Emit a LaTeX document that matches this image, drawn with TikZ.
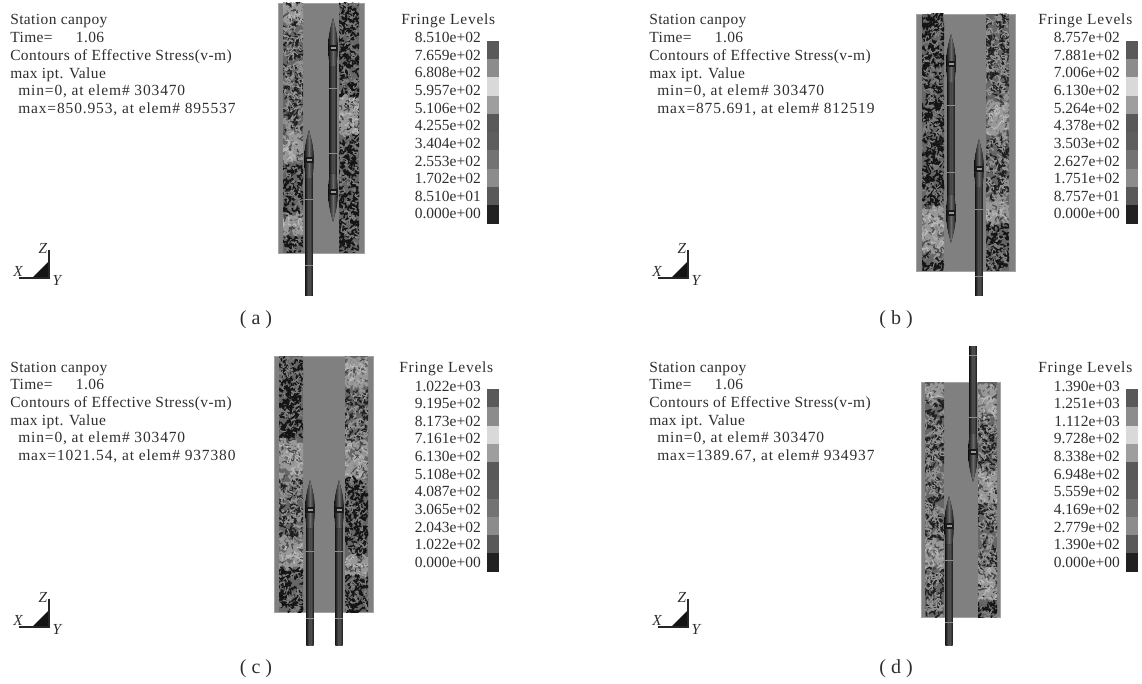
\documentclass[tikz,border=0pt]{standalone}
\usepackage{fontspec}
\setmainfont{Liberation Serif}
\pgfmathsetseed{4217}
\definecolor{ink}{gray}{0.18}
\tikzset{
  info/.style={anchor=base west,inner sep=0pt,text=ink,font=\fontsize{11.6pt}{13pt}\selectfont\addfontfeature{LetterSpace=2.6}},
  infowide/.style={anchor=base west,inner sep=0pt,text=ink,font=\fontsize{11.6pt}{13pt}\selectfont\addfontfeature{LetterSpace=5.6}},
  fringetitle/.style={anchor=base west,inner sep=0pt,text=ink,font=\fontsize{11.6pt}{13pt}\selectfont\addfontfeature{LetterSpace=5}},
  level/.style={anchor=base east,inner sep=0pt,text=ink,font=\fontsize{11.6pt}{13pt}\selectfont},
  axislabel/.style={inner sep=0pt,text=ink,font=\fontsize{11.5pt}{13pt}\selectfont\itshape},
  caption/.style={inner sep=0pt,text=ink,font=\fontsize{15pt}{17pt}\selectfont},
  ticklight/.style={draw=black!45,line width=0.35pt},
  panelbase/.style={fill=black!50,draw=black!36,line width=0.4pt},
}
% squiggles spread over x1..x2, y1..y2 (the caller's scope clips x only): colour, number, width
\newcommand{\squig}[7]{%
  \foreach \i in {1,...,#6}{%
    \pgfmathsetmacro\xa{#1+rnd*(#2-#1)}\pgfmathsetmacro\ya{#3+rnd*(#4-#3)}%
    \pgfmathsetmacro\ca{rand*5}\pgfmathsetmacro\cb{rand*5}\pgfmathsetmacro\cc{rand*5}\pgfmathsetmacro\cd{rand*5}%
    \draw[black!#5,line width=#7,line cap=round] (\xa,\ya) .. controls (\xa+\ca,\ya+\cb) and (\xa+\cb,\ya+\cc) .. (\xa+\cc,\ya+\cd);
  }}
\newcommand{\dkband}[4]{%
  \pgfmathtruncatemacro\nA{(#2-#1)*(#4-#3)/12}\pgfmathtruncatemacro\nB{(#2-#1)*(#4-#3)/32}%
  \squig{#1}{#2}{#3}{#4}{92}{\nA}{1.1pt}\squig{#1}{#2}{#3}{#4}{50}{\nB}{0.8pt}}
\newcommand{\mdband}[4]{%
  \pgfmathtruncatemacro\nA{(#2-#1)*(#4-#3)/17}\pgfmathtruncatemacro\nB{(#2-#1)*(#4-#3)/18}%
  \squig{#1}{#2}{#3}{#4}{88}{\nA}{1pt}\squig{#1}{#2}{#3}{#4}{42}{\nB}{0.8pt}}
\newcommand{\ltband}[4]{%
  \pgfmathtruncatemacro\nA{(#2-#1)*(#4-#3)/7}\pgfmathtruncatemacro\nB{(#2-#1)*(#4-#3)/60}\pgfmathtruncatemacro\nC{(#2-#1)*(#4-#3)/40}%
  \squig{#1}{#2}{#3}{#4}{40}{\nA}{1.2pt}\squig{#1}{#2}{#3}{#4}{72}{\nB}{0.8pt}\squig{#1}{#2}{#3}{#4}{28}{\nC}{0.7pt}}
% band frame: x1 x2 y1 y2, then the segments
\newcommand{\bandstrip}[5]{%
  \begin{scope}
    \clip (#1,#3) rectangle (#2,#4);
    \fill[black!60] (#1,#3) rectangle (#2,#4);
    #5
  \end{scope}}
% nose: cx tip dir
\newcommand{\nose}[3]{%
  \fill[left color=black!92,right color=black!92,middle color=black!58]
    (#1,#2) .. controls (#1-1.5,#2+#3*7) and (#1-4.6,#2+#3*15) .. (#1-4.6,#2+#3*28)
    .. controls (#1-4.6,#2+#3*36) and (#1-4,#2+#3*42) .. (#1-3.5,#2+#3*48)
    -- (#1+3.5,#2+#3*48)
    .. controls (#1+4,#2+#3*42) and (#1+4.6,#2+#3*36) .. (#1+4.6,#2+#3*28)
    .. controls (#1+4.6,#2+#3*15) and (#1+1.5,#2+#3*7) .. (#1,#2) -- cycle;
  \fill[black!90] (#1-4,#2+#3*27) rectangle (#1+4,#2+#3*33);
  \fill[black!40] (#1-2.5,#2+#3*29) rectangle (#1+2.5,#2+#3*31);}
% tube: cx y1 y2
\newcommand{\tube}[3]{%
  \fill[left color=black!90,right color=black!90,middle color=black!62] (#1-3.7,#2) rectangle (#1+3.7,#3);
  \fill[black!72] (#1-0.5,#2) rectangle (#1+0.5,#3);}
\newcommand{\ticktube}[2]{\draw[ticklight] (#1-3.7,#2) -- (#1+3.7,#2);}
% info block: id, x, first baseline, max line
\newcommand{\infoblock}[4]{%
  \node[info] (#1s) at (#2,#3) {Station canpoy};
  \node[info] (#1t) at (#2,#3+17.7) {Time=\hspace{1.5em}1.06};
  \node[info] (#1c) at (#2,#3+35.4) {Contours of Effective Stress(v-m)};
  \node[info] (#1v) at (#2,#3+53.1) {max ipt. Value};
  \node[infowide] (#1n) at (#2+8,#3+70.8) {min=0, at elem\# 303470};
  \node[infowide] (#1x) at (#2+8,#3+88.5) {#4};}
% triad: id, dx, dy
\newcommand{\triad}[3]{%
  \fill[black!92] (#2+32,#3+278) -- (#2+48,#3+278) -- (#2+48,#3+262) -- cycle;
  \draw[black!85,line width=0.9pt] (#2+19,#3+278) -- (#2+49,#3+278) -- (#2+49,#3+250);
  \node[axislabel] (#1Z) at (#2+43,#3+248) {Z};
  \node[axislabel] (#1X) at (#2+18,#3+271) {X};
  \node[axislabel] (#1Y) at (#2+57,#3+280) {Y};}
% legend: id, title x, bar x, title baseline, bar top
\newcommand{\fringe}[5]{%
  \node[fringetitle] (#1title) at (#2,#4) {Fringe Levels};
  \foreach \g [count=\k from 0] in {35,55,85,62,35,37,45,55,35,13}{%
    \fill[black!\the\numexpr100-\g\relax] (#3,#5+\k*18.25) rectangle (#3+12,#5+\k*18.25+18.35);
  }}
\newcommand{\vals}[4]{%
  \foreach \v [count=\k from 0] in {#4}{%
    \node[level] (#1v\k) at (#2,#3+\k*17.65) {\v};
  }}
\begin{document}
\begin{tikzpicture}[x=0.75pt,y=-0.75pt]
\useasboundingbox (0,0) rectangle (1142,684);
% ---------- panel a
\infoblock{a}{10}{25}{max=850.953, at elem\# 895537}
\fill[panelbase] (278,3) rectangle (364,253);
\bandstrip{283}{303}{3}{253}{\mdband{283}{303}{3}{130}\ltband{283}{303}{5}{22}\ltband{283}{303}{132}{162}\dkband{283}{303}{165}{215}\ltband{283}{303}{216}{234}\dkband{283}{303}{236}{253}}
\bandstrip{339}{359}{3}{253}{\dkband{339}{359}{3}{253}\ltband{339}{359}{98}{133}}
\tube{309}{165}{296}\nose{309}{130}{1}\ticktube{309}{199}\ticktube{309}{265}
\tube{333}{60}{180}\nose{333}{18}{1}\nose{333}{222}{-1}\ticktube{333}{88}\ticktube{333}{153}
\fringe{a}{401}{487}{25}{41}\vals{a}{481}{42.5}{8.510e+02,7.659e+02,6.808e+02,5.957e+02,5.106e+02,4.255e+02,3.404e+02,2.553e+02,1.702e+02,8.510e+01,0.000e+00}
\triad{a}{0}{0}
\node[caption] (capa) at (256,320) {(\hspace{0.25em}a\hspace{0.25em})};
% ---------- panel b
\infoblock{b}{649}{25}{max=875.691, at elem\# 812519}
\fill[panelbase] (916,14) rectangle (1015,271);
\bandstrip{922}{944}{14}{271}{\dkband{922}{944}{14}{205}\ltband{922}{944}{208}{254}\dkband{922}{944}{256}{271}}
\bandstrip{986}{1009}{14}{271}{\mdband{986}{1009}{14}{100}\ltband{986}{1009}{103}{138}\mdband{986}{1009}{140}{200}\ltband{986}{1009}{202}{223}\dkband{986}{1009}{226}{271}}
\tube{951}{75}{200}\nose{951}{34}{1}\nose{951}{243}{-1}\ticktube{951}{105}\ticktube{951}{172}
\tube{979}{175}{296}\nose{979}{139}{1}\ticktube{979}{209}\ticktube{979}{276}
\fringe{b}{1038}{1126}{25}{41}\vals{b}{1120}{42.5}{8.757e+02,7.881e+02,7.006e+02,6.130e+02,5.264e+02,4.378e+02,3.503e+02,2.627e+02,1.751e+02,8.757e+01,0.000e+00}
\triad{b}{639}{0}
\node[caption] (capb) at (896,320) {(\hspace{0.25em}b\hspace{0.25em})};
% ---------- panel c
\infoblock{c}{10}{372}{max=1021.54, at elem\# 937380}
\fill[panelbase] (274,356) rectangle (373,612);
\bandstrip{279}{303}{356}{612}{\dkband{279}{303}{356}{440}\ltband{279}{303}{442}{478}\mdband{279}{303}{480}{540}\ltband{279}{303}{542}{568}\dkband{279}{303}{570}{612}}
\bandstrip{345}{368}{356}{612}{\ltband{345}{368}{358}{388}\mdband{345}{368}{390}{440}\ltband{345}{368}{442}{478}\dkband{345}{368}{480}{555}\ltband{345}{368}{557}{573}\dkband{345}{368}{575}{612}}
\tube{310}{515}{645}\nose{310}{480}{1}\ticktube{310}{551}\ticktube{310}{618}
\tube{339}{515}{645}\nose{339}{480}{1}\ticktube{339}{551}\ticktube{339}{618}
\fringe{c}{399}{487}{372}{389}\vals{c}{481}{391}{1.022e+03,9.195e+02,8.173e+02,7.161e+02,6.130e+02,5.108e+02,4.087e+02,3.065e+02,2.043e+02,1.022e+02,0.000e+00}
\triad{c}{0}{349}
\node[caption] (capc) at (256,669) {(\hspace{0.25em}c\hspace{0.25em})};
% ---------- panel d
\infoblock{d}{649}{372}{max=1389.67, at elem\# 934937}
\fill[panelbase] (921,382) rectangle (1000,617);
\bandstrip{925}{944}{382}{617}{\ltband{925}{944}{384}{398}\mdband{925}{944}{400}{540}\ltband{925}{944}{542}{568}\mdband{925}{944}{570}{617}}
\bandstrip{978}{997}{382}{617}{\ltband{978}{997}{384}{418}\mdband{978}{997}{420}{600}\ltband{978}{997}{470}{500}\ltband{978}{997}{570}{598}\dkband{978}{997}{602}{617}}
\tube{973}{346}{448}\nose{973}{482}{-1}\ticktube{973}{355}\ticktube{973}{417}
\tube{949}{530}{645}\nose{949}{496}{1}\ticktube{949}{560}\ticktube{949}{622}
\fringe{d}{1038}{1126}{372}{389}\vals{d}{1120}{391}{1.390e+03,1.251e+03,1.112e+03,9.728e+02,8.338e+02,6.948e+02,5.559e+02,4.169e+02,2.779e+02,1.390e+02,0.000e+00}
\triad{d}{639}{349}
\node[caption] (capd) at (896,669) {(\hspace{0.25em}d\hspace{0.25em})};
\end{tikzpicture}
\end{document}
